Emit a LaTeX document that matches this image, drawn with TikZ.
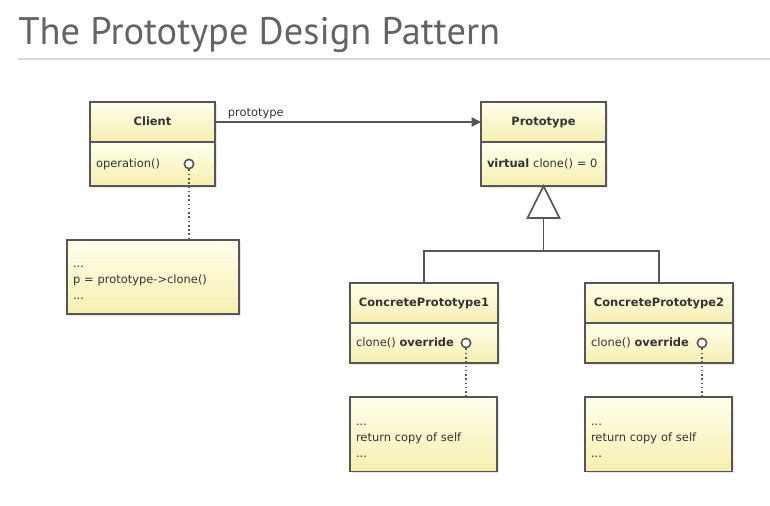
\documentclass[tikz,border=0pt]{standalone}
\usepackage{fontspec}
\setmainfont{DejaVu Sans}
\newfontfamily\titlefont{PT Sans}
\usetikzlibrary{positioning,shadows,arrows.meta}

\definecolor{umlline}{HTML}{565656}
\definecolor{umltop}{HTML}{FFFFEC}
\definecolor{umlbot}{HTML}{F6EFB0}
\definecolor{umltext}{HTML}{333333}
\definecolor{titlegray}{HTML}{646464}
\definecolor{rulegray}{HTML}{DADADA}

\tikzset{
  umlbox/.style={draw=umlline, line width=1.1pt, top color=umltop, bottom color=umlbot,
    drop shadow={opacity=0.18, shadow xshift=1.2pt, shadow yshift=-1.2pt},
    text=umltext, inner sep=0pt, outer sep=0pt, anchor=north west, font=\fontsize{8.6}{12}\selectfont},
  classname/.style={umlbox, font=\fontsize{8.6}{12}\selectfont\bfseries, minimum height=30pt,
    text height=6.3pt, text depth=1.2pt},
  classops/.style={umlbox, align=left, inner xsep=4.5pt, text height=6.3pt, text depth=0.6pt},
  notebox/.style={umlbox, align=left, inner xsep=4.5pt},
  lolli/.style={circle, draw=umlline, line width=1.2pt, fill=white, inner sep=0pt, minimum size=7pt},
  notelink/.style={umlline, line width=1.2pt, dotted},
  assoc/.style={umlline, line width=1.2pt, -{Triangle[length=7pt, width=7pt]}},
  generalize/.style={umlline, line width=1.3pt},
}

\begin{document}
\begin{tikzpicture}[x=0.75pt, y=-0.75pt]
  \useasboundingbox (0,0) rectangle (770,506);

  % title
  \node[anchor=base west, inner sep=0pt, text=titlegray,
        font=\titlefont\fontsize{28.8}{30}\selectfont] (title) at (18,45) {The Prototype Design Pattern};
  \coordinate (ruleL) at (18,59);  \coordinate (ruleR) at (770,59);
  \draw[rulegray, line width=1pt] (ruleL) -- (ruleR);

  % client
  \node[classname, minimum width=93.75pt] (clienthead) at (90,102) {Client};
  \node[classops, text width=84.75pt, minimum height=33pt, below=0pt of clienthead] (clientops) {operation()};
  \node[notebox, text width=120pt, minimum height=55.5pt] (clientnote) at (67,240)
       {\rule{0pt}{10pt}...\\p = prototype->clone()\\...};

  % prototype
  \node[classname, minimum width=93.75pt] (protohead) at (481,102) {Prototype};
  \node[classops, text width=84.75pt, minimum height=33pt, below=0pt of protohead] (protoops) {\textbf{virtual} clone() = 0};

  % concrete prototypes
  \node[classname, minimum width=111pt] (cponehead) at (350,283) {ConcretePrototype1};
  \node[classops, text width=102pt, minimum height=30pt, below=0pt of cponehead] (cponeops) {clone() \textbf{override}};
  \node[notebox, text width=101.25pt, minimum height=56pt] (cponenote) at (350,397)
       {\rule{0pt}{10pt}...\\return copy of self\\...};

  \node[classname, minimum width=111pt] (cptwohead) at (585,283) {ConcretePrototype2};
  \node[classops, text width=102pt, minimum height=30pt, below=0pt of cptwohead] (cptwoops) {clone() \textbf{override}};
  \node[notebox, text width=101.25pt, minimum height=56pt] (cptwonote) at (585,397)
       {\rule{0pt}{10pt}...\\return copy of self\\...};

  % lollipops and note links
  \node[lolli] (clientdot) at (189,164) {};
  \node[lolli] (cponedot) at (466,343) {};
  \node[lolli] (cptwodot) at (702,343) {};
  \draw[notelink] (clientdot) -- (clientdot |- clientnote.north);
  \draw[notelink] (cponedot) -- (cponedot |- cponenote.north);
  \draw[notelink] (cptwodot) -- (cptwodot |- cptwonote.north);

  % association
  \draw[assoc] (clienthead.east) -- node[pos=0, anchor=south west, xshift=7pt, inner sep=2pt,
        text=umltext, font=\fontsize{8.6}{10}\selectfont] (rolename) {prototype} (protohead.west);

  % generalization
  \draw[generalize, fill=white] (protoops.south) -- ++(-16,32) coordinate (tribaseL)
        -- ++(32,0) -- cycle;
  \path (protoops.south) ++(0,32) coordinate (tribase) ++(0,33) coordinate (branch);
  \draw[generalize] (tribase) -- (branch);
  \draw[generalize] (branch) -| (cponehead.north);
  \draw[generalize] (branch) -| (cptwohead.north);
\end{tikzpicture}
\end{document}
